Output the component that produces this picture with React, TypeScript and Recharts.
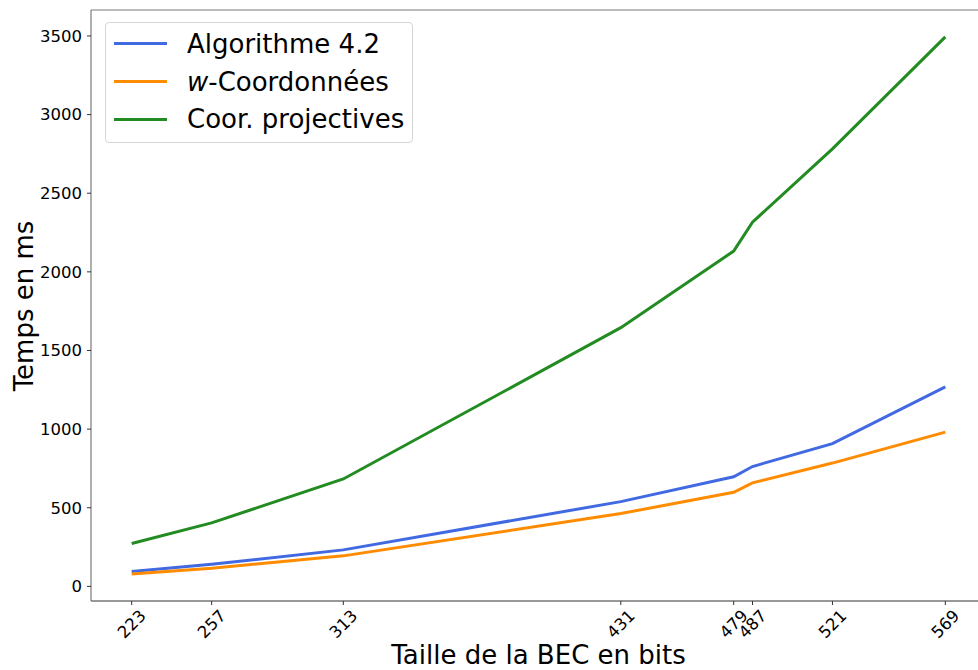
import { Label, Line, LineChart, ReferenceLine, XAxis, YAxis } from "recharts";

// Taille de la BEC (bits)
const SIZES = [223, 257, 313, 431, 479, 487, 521, 569];
// temps en ms
const ALGO_42 = [95, 140, 232, 539, 697, 762, 908, 1268];
const W_COORD = [79, 115, 194, 463, 598, 658, 784, 981];
const PROJ = [273, 404, 683, 1645, 2132, 2316, 2782, 3494];

const Y_TICKS = [0, 500, 1000, 1500, 2000, 2500, 3000, 3500];

const FONT = "DejaVu Sans";

const SERIES = [
  { key: "algo", color: "#4169e1", label: <>Algorithme 4.2</> },
  { key: "w", color: "#ff8c00", label: <><i>w</i>-Coordonnées</> },
  { key: "proj", color: "#228b22", label: <>Coor. projectives</> },
];

const data = SIZES.map((s, i) => ({
  size: s,
  algo: ALGO_42[i],
  w: W_COORD[i],
  proj: PROJ[i],
}));

function XTick(props: any) {
  const { x, y, payload } = props;
  const cy = y + 19;
  return (
    <text
      x={x}
      y={cy}
      dy="0.35em"
      textAnchor="middle"
      fontSize={16.5}
      fontFamily={FONT}
      fill="#000"
      transform={`rotate(-45, ${x}, ${cy})`}
    >
      {payload.value}
    </text>
  );
}

function YTick(props: any) {
  const { x, y, payload } = props;
  return (
    <text x={x} y={y} dy="0.35em" textAnchor="end" fontSize={16.5} fontFamily={FONT} fill="#000">
      {payload.value}
    </text>
  );
}

function LegendBox() {
  return (
    <div
      style={{
        position: "absolute",
        left: 105,
        top: 22,
        width: 308,
        height: 121,
        border: "1px solid #d6d6d6",
        borderRadius: 4,
        background: "rgba(255,255,255,0.8)",
        fontFamily: FONT,
        fontSize: 26,
        color: "#000",
        boxSizing: "border-box",
        paddingTop: 2,
      }}
    >
      {SERIES.map((s) => (
        <div key={s.key} style={{ display: "flex", alignItems: "center", height: 37.7 }}>
          <div style={{ marginLeft: 8, width: 53, height: 3, background: s.color }} />
          <div style={{ marginLeft: 20, whiteSpace: "nowrap", lineHeight: 1 }}>{s.label}</div>
        </div>
      ))}
    </div>
  );
}

export default function App() {
  return (
    <div
      style={{
        position: "absolute",
        left: 0,
        top: 0,
        width: 978,
        height: 670,
        overflow: "hidden",
        background: "#fff",
      }}
    >
      <LineChart
        width={990}
        height={670}
        data={data}
        margin={{ top: 10, right: 4, left: 0, bottom: 0 }}
      >
        <XAxis
          dataKey="size"
          type="number"
          domain={[205.7, 586.3]}
          ticks={SIZES}
          interval={0}
          allowDataOverflow
          height={69}
          tickSize={4}
          tickMargin={0}
          stroke="#333"
          tickLine={{ stroke: "#333" }}
          axisLine={{ stroke: "#333", strokeWidth: 1.2 }}
          tick={<XTick />}
        >
          <Label
            content={(p: any) => {
              const vb = p.viewBox;
              return (
                <text
                  x={vb.x + vb.width / 2}
                  y={vb.y + 63}
                  textAnchor="middle"
                  fontSize={26}
                  fontFamily={FONT}
                  fill="#000"
                >
                  Taille de la BEC en bits
                </text>
              );
            }}
          />
        </XAxis>
        <YAxis
          type="number"
          domain={[-93, 3665]}
          ticks={Y_TICKS}
          interval={0}
          allowDataOverflow
          width={91}
          tickSize={4}
          tickMargin={5}
          tickLine={{ stroke: "#333" }}
          axisLine={{ stroke: "#7a7a7a", strokeWidth: 1.2 }}
          tick={<YTick />}
        >
          <Label
            content={() => (
              <text
                x={32.5}
                y={306}
                textAnchor="middle"
                fontSize={26}
                fontFamily={FONT}
                fill="#000"
                transform="rotate(-90, 32.5, 306)"
              >
                Temps en ms
              </text>
            )}
          />
        </YAxis>
        <ReferenceLine y={3665} stroke="#7a7a7a" strokeWidth={1.2} ifOverflow="visible" />
        <ReferenceLine x={586.3} stroke="#333" strokeWidth={1.2} ifOverflow="visible" />
        {SERIES.map((s) => (
          <Line
            key={s.key}
            type="linear"
            dataKey={s.key}
            stroke={s.color}
            strokeWidth={3}
            dot={false}
            activeDot={false}
            isAnimationActive={false}
          />
        ))}
      </LineChart>
      <LegendBox />
    </div>
  );
}
